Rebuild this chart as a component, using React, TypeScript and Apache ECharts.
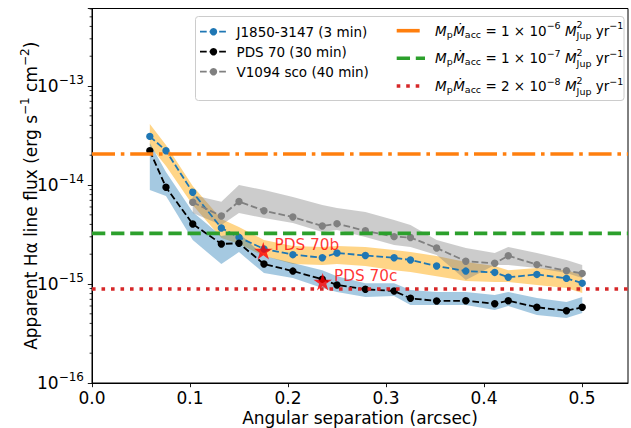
import React, { useEffect, useRef } from "react";
import * as echarts from "echarts";

const FONT = "DejaVu Sans";

// angular separation (arcsec) shared by all curves
const sep = [0.059, 0.0755, 0.1028, 0.132, 0.15, 0.1755, 0.205, 0.235, 0.25, 0.279, 0.3083, 0.325, 0.3517, 0.3815, 0.411, 0.4248, 0.454, 0.4842, 0.5003];

// J1850-3147 (3 min)
const j1850 = [3.1e-14, 2.22e-14, 8.44e-15, 3.68e-15, 2.96e-15, 2.26e-15, 1.98e-15, 1.84e-15, 2.06e-15, 1.94e-15, 1.84e-15, 1.75e-15, 1.52e-15, 1.35e-15, 1.31e-15, 1.17e-15, 1.25e-15, 1.14e-15, 1.02e-15];
const j1850Hi = [4.13e-14, 2.54e-14, 9.77e-15, 4.54e-15, 3.77e-15, 2.78e-15, 2.42e-15, 2.36e-15, 2.42e-15, 2.36e-15, 2.2e-15, 2.1e-15, 1.92e-15, 1.67e-15, 1.52e-15, 1.38e-15, 1.45e-15, 1.38e-15, 1.23e-15];
const j1850Lo = [2.48e-14, 1.56e-14, 6.28e-15, 2.91e-15, 2.54e-15, 1.92e-15, 1.59e-15, 1.56e-15, 1.59e-15, 1.52e-15, 1.38e-15, 1.32e-15, 1.2e-15, 1.07e-15, 1.05e-15, 1.05e-15, 9.77e-16, 9.11e-16, 8.11e-16];

// PDS 70 (30 min)
const pds70 = [2.22e-14, 9.48e-15, 4.04e-15, 2.54e-15, 2.58e-15, 1.59e-15, 1.35e-15, 1.12e-15, 9.77e-16, 8.84e-16, 8.5e-16, 7.17e-16, 6.73e-16, 6.78e-16, 6.32e-16, 6.78e-16, 5.82e-16, 5.37e-16, 5.82e-16];
const pds70Hi = [2.66e-14, 1.35e-14, 5.34e-15, 3.05e-15, 3.27e-15, 1.92e-15, 1.63e-15, 1.38e-15, 1.2e-15, 1.02e-15, 1.02e-15, 8.7e-16, 8.3e-16, 8.3e-16, 7.74e-16, 8.3e-16, 7.22e-16, 6.58e-16, 7.39e-16];
const pds70Lo = [8.9e-15, 7.74e-15, 2.78e-15, 1.59e-15, 2.1e-15, 1.29e-15, 1.15e-15, 9.11e-16, 8.3e-16, 7.39e-16, 7.56e-16, 6.14e-16, 6.14e-16, 6.14e-16, 5.46e-16, 6.0e-16, 4.86e-16, 4.54e-16, 5.1e-16];

// V1094 sco (40 min)
const v1094Sep = [0.1028, 0.132, 0.15, 0.1755, 0.205, 0.235, 0.25, 0.279, 0.3083, 0.325, 0.3517, 0.3815, 0.411, 0.4248, 0.454, 0.4842, 0.5003];
const v1094 = [6.69e-15, 4.86e-15, 6.81e-15, 5.5e-15, 4.75e-15, 3.85e-15, 4.07e-15, 3.45e-15, 3.01e-15, 2.95e-15, 2.31e-15, 1.7e-15, 1.62e-15, 1.93e-15, 1.57e-15, 1.36e-15, 1.28e-15];
const v1094Hi = [7.93e-15, 6.78e-15, 1.0e-14, 8.9e-15, 7.56e-15, 6.28e-15, 5.86e-15, 5.34e-15, 4.43e-15, 3.94e-15, 2.78e-15, 2.31e-15, 2.06e-15, 2.36e-15, 2.06e-15, 1.75e-15, 1.56e-15];
const v1094Lo = [5.21e-15, 3.94e-15, 5.21e-15, 4.64e-15, 4.13e-15, 3.35e-15, 3.51e-15, 2.98e-15, 2.48e-15, 2.36e-15, 1.96e-15, 1.1e-15, 1.56e-15, 1.56e-15, 1.45e-15, 1.29e-15, 1.15e-15];

// planets
const planetNames = ["PDS 70b", "PDS 70c"];
const planetSep = [0.1748, 0.2354];
const planetFlux = [2.17e-15, 1.055e-15];

// accretion-rate reference levels
const accMantissa = ["1", "1", "2"];
const accExponent = ["6", "7", "8"];
const accFlux = [2.06e-14, 3.25e-15, 8.9e-16];
const accColors = ["#ff7f0e", "#2ca02c", "#d62728"];
const accDash = [[23, 5.8, 3.6, 5.8], [13.3, 5.8], [3.6, 5.9]];

const X_MAX = 0.547;
const Y_MIN = 1e-16;
const Y_MAX = 6.07e-13;

const minorTicks: number[] = [];
for (let e = -16; e <= -13; e++) {
  for (let k = 2; k <= 9; k++) {
    const v = k * Math.pow(10, e);
    if (v <= Y_MAX) minorTicks.push(v);
  }
}

const STAR = "path://M0,-100L22.45,-30.9L95.1,-30.9L36.3,11.8L58.8,80.9L0,38.2L-58.8,80.9L-36.3,11.8L-95.1,-30.9L-22.45,-30.9Z";
const DATA_DASH = [6.7, 2.9];

function band(xs: number[], lo: number[], hi: number[], color: string, opacity: number) {
  return {
    type: "custom",
    silent: true,
    z: 1,
    data: xs.map((x, i) => [x, lo[i], hi[i]]),
    encode: { x: 0, y: [1, 2] },
    renderItem: (params: any, api: any) => {
      if (params.dataIndex !== 0) return null;
      const pts: number[][] = [];
      for (let i = 0; i < xs.length; i++) pts.push(api.coord([xs[i], hi[i]]));
      for (let i = xs.length - 1; i >= 0; i--) pts.push(api.coord([xs[i], lo[i]]));
      return { type: "polygon", shape: { points: pts }, style: { fill: color, opacity } };
    },
  };
}

function line(name: string, xs: number[], ys: number[], color: string) {
  return {
    type: "line",
    name,
    silent: true,
    z: 3,
    data: xs.map((x, i) => [x, ys[i]]),
    symbol: "circle",
    symbolSize: 7.4,
    itemStyle: { color, borderWidth: 0 },
    lineStyle: { color, width: 1.8, type: DATA_DASH },
    emphasis: { disabled: true },
  };
}

export default function App() {
  const ref = useRef<HTMLDivElement>(null);
  useEffect(() => {
    if (!ref.current) return;
    const chart = echarts.init(ref.current, null, { renderer: "svg" });

    const cv = document.createElement("canvas").getContext("2d")!;
    const tw = (t: string, s: number, it: boolean) => {
      cv.font = `${it ? "italic " : ""}${s}px "DejaVu Sans"`;
      return cv.measureText(t).width;
    };
    const B = 13.5;
    const S = 9.5;
    const txt = (t: string, x: number, y: number, s: number, it = false, color = "#000") => ({
      type: "text",
      x,
      y,
      z: 101,
      style: { text: t, fontSize: s, fontFamily: FONT, fontStyle: it ? "italic" : "normal", fill: color, align: "left", verticalAlign: "middle" },
    });

    const legendEls: any[] = [];
    legendEls.push({
      type: "rect",
      z: 100,
      shape: { x: 195.5, y: 16.5, width: 428.5, height: 84, r: 3 },
      style: { fill: "rgba(255,255,255,0.8)", stroke: "#cccccc", lineWidth: 1 },
    });
    const leftNames = ["J1850-3147 (3 min)", "PDS 70 (30 min)", "V1094 sco (40 min)"];
    const leftColors = ["#1f77b4", "#000000", "#808080"];
    const leftY = [31.7, 51.7, 71.7];
    leftNames.forEach((n, i) => {
      legendEls.push({ type: "line", z: 101, shape: { x1: 200, y1: leftY[i], x2: 227, y2: leftY[i] }, style: { stroke: leftColors[i], lineWidth: 1.8, lineDash: DATA_DASH } });
      legendEls.push({ type: "circle", z: 102, shape: { cx: 213.5, cy: leftY[i], r: 3.7 }, style: { fill: leftColors[i] } });
      legendEls.push(txt(n, 236.5, leftY[i], B));
    });
    const rightY = [30.7, 58.3, 86];
    rightY.forEach((y, i) => {
      legendEls.push({ type: "line", z: 101, shape: { x1: 396.7, y1: y, x2: 425, y2: y }, style: { stroke: accColors[i], lineWidth: 3.6, lineDash: accDash[i], lineCap: "butt" } });
      let x = 435;
      const add = (t: string, s: number, dy: number, it = false) => {
        legendEls.push(txt(t, x, y + dy, s, it));
        x += tw(t, s, it);
      };
      add("M", B, 0, true);
      add("p", S, 3.5);
      x += 0.5;
      add("\u1E40", B, 0, true);
      add("acc", S, 3.5);
      add(` = ${accMantissa[i]} \u00D7 10`, B, 0);
      add(`\u2212${accExponent[i]}`, S, -5);
      add(" M", B, 0, true);
      const xs = x;
      add("2", S, -6);
      const x2 = x;
      x = xs;
      add("Jup", S, 5);
      x = Math.max(x, x2);
      add(" yr", B, 0);
      add("\u22121", S, -5);
    });

    const minorSeries = {
      type: "custom",
      silent: true,
      clip: false,
      z: 5,
      data: minorTicks.map((v) => [0, v]),
      renderItem: (params: any, api: any) => {
        const p = api.coord([0, api.value(1)]);
        return { type: "line", shape: { x1: p[0] - 2.4, y1: p[1], x2: p[0], y2: p[1] }, style: { stroke: "#000", lineWidth: 0.8 } };
      },
    };

    const option: any = {
      animation: false,
      backgroundColor: "#ffffff",
      textStyle: { fontFamily: FONT },
      grid: { left: 92, right: 3, top: 8.5, bottom: 45, show: true, borderColor: "#000", borderWidth: 1, backgroundColor: "transparent", outerBoundsMode: "none" },
      xAxis: {
        type: "value",
        min: 0,
        max: X_MAX,
        interval: 0.1,
        splitLine: { show: false },
        axisLine: { show: true, lineStyle: { color: "#000", width: 1 } },
        axisTick: { show: true, inside: false, length: 4.2, lineStyle: { color: "#000", width: 0.9 } },
        axisLabel: {
          color: "#000",
          fontSize: 17,
          fontFamily: FONT,
          margin: 6.5,
          showMaxLabel: false,
          formatter: (v: number) => (Math.abs(v * 10 - Math.round(v * 10)) < 1e-6 ? v.toFixed(1) : ""),
        },
        name: "Angular separation (arcsec)",
        nameLocation: "middle",
        nameGap: 26.5,
        nameMoveOverlap: false,
        nameTextStyle: { color: "#000", fontSize: 17, fontFamily: FONT, verticalAlign: "top" },
      },
      yAxis: {
        type: "log",
        logBase: 10,
        min: Y_MIN,
        max: Y_MAX,
        splitLine: { show: false },
        axisLine: { show: true, lineStyle: { color: "#000", width: 1 } },
        axisTick: { show: true, inside: false, length: 4.2, lineStyle: { color: "#000", width: 0.9 } },
        axisLabel: {
          color: "#000",
          margin: 8,
          fontFamily: FONT,
          fontSize: 17,
          formatter: (v: number) => {
            const l = Math.log10(v);
            const e = Math.round(l);
            if (Math.abs(l - e) > 1e-6) return "";
            return `{b|10}{s|${e < 0 ? "\u2212" : ""}${Math.abs(e)}}`;
          },
          rich: {
            b: { fontSize: 17, fontFamily: FONT, color: "#000", lineHeight: 24 },
            s: { fontSize: 12, fontFamily: FONT, color: "#000", lineHeight: 15, verticalAlign: "top" },
          },
        },
        name: "{n|Apparent H\u03B1 line flux (erg s}{s|\u22121}{n| cm}{s|\u22122}{n|)}",
        nameLocation: "middle",
        nameGap: 49,
        nameMoveOverlap: false,
        nameTextStyle: {
          color: "#000",
          fontSize: 17,
          fontFamily: FONT,
          rich: {
            n: { fontSize: 17, fontFamily: FONT, color: "#000", lineHeight: 24 },
            s: { fontSize: 12, fontFamily: FONT, color: "#000", lineHeight: 15, verticalAlign: "top" },
          },
        },
      },
      series: [
        band(sep, j1850Lo, j1850Hi, "#ffa500", 0.47),
        band(sep, pds70Lo, pds70Hi, "#1f77b4", 0.4),
        band(v1094Sep, v1094Lo, v1094Hi, "#808080", 0.4),
        line("J1850-3147 (3 min)", sep, j1850, "#1f77b4"),
        line("PDS 70 (30 min)", sep, pds70, "#000000"),
        line("V1094 sco (40 min)", v1094Sep, v1094, "#808080"),
        ...accFlux.map((v, i) => ({
          type: "line",
          silent: true,
          z: 4,
          symbol: "none",
          data: [[0, v], [X_MAX, v]],
          lineStyle: { color: accColors[i], width: 3.6, type: accDash[i], cap: "butt" },
          emphasis: { disabled: true },
        })),
        {
          type: "scatter",
          silent: true,
          z: 6,
          symbol: STAR,
          symbolSize: [18.5, 17.5],
          itemStyle: { color: "#ff0000" },
          data: planetNames.map((n, i) => ({ name: n, value: [planetSep[i], planetFlux[i]] })),
          label: { show: true, position: "right", distance: 2, offset: [0, -6], formatter: "{b}", color: "#ff0000", fontSize: 15.3, fontFamily: FONT },
          emphasis: { disabled: true },
        },
        minorSeries,
      ],
      graphic: legendEls,
    };
    chart.setOption(option);
    return () => chart.dispose();
  }, []);
  return <div ref={ref} style={{ position: "fixed", left: 0, top: 0, width: 631, height: 428 }} />;
}
